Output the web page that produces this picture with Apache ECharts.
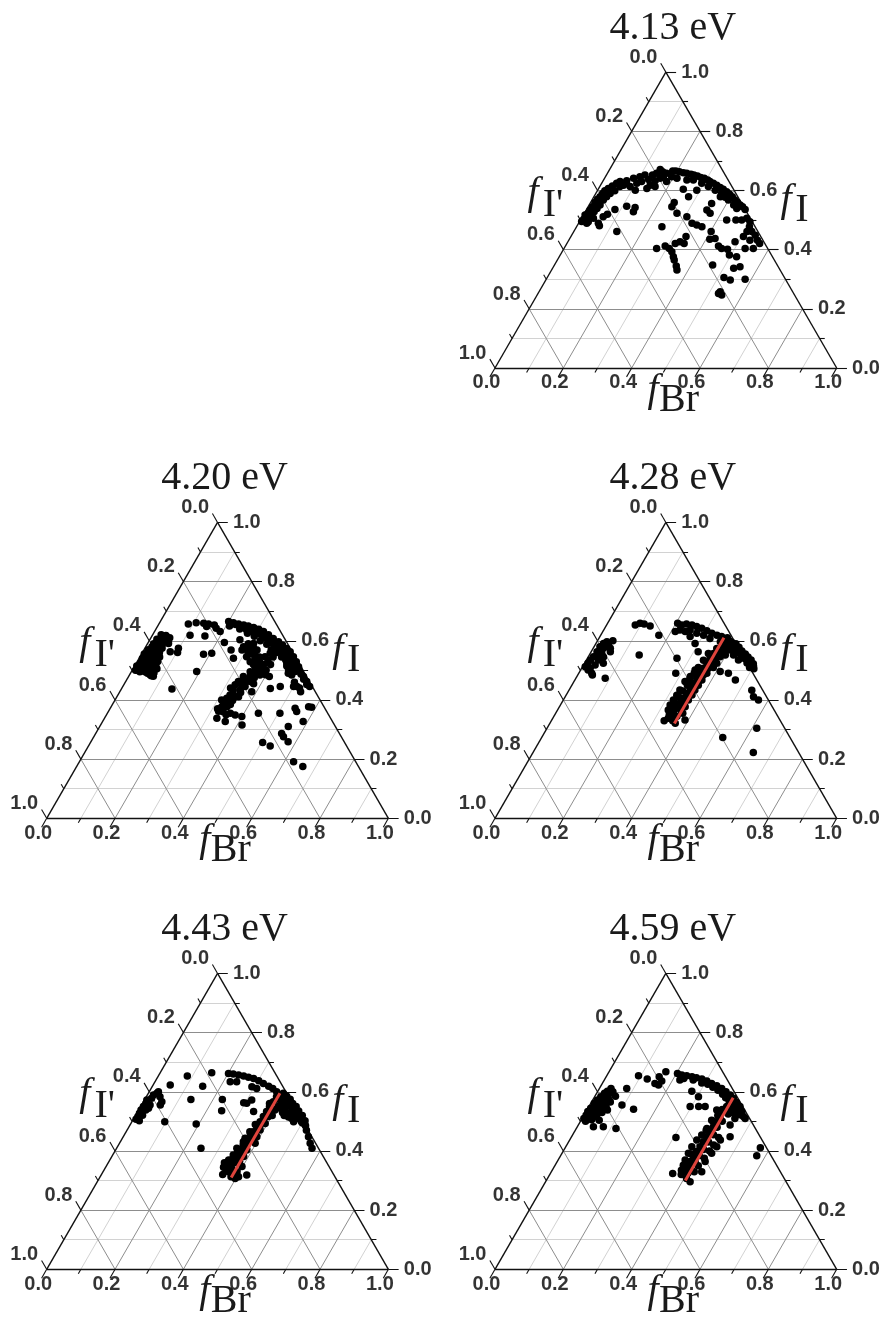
<!DOCTYPE html>
<html>
<head>
<meta charset="utf-8">
<title>Ternary scatter</title>
<script src="https://cdn.jsdelivr.net/npm/echarts@6/dist/echarts.min.js"></script>
<style>
html,body{margin:0;padding:0;background:#ffffff;}
#chart{width:884px;height:1330px;}
</style>
</head>
<body>
<div id="chart"></div>
<script>
// ---------------- data ----------------
const titles = ['4.13 eV', '4.20 eV', '4.28 eV', '4.43 eV', '4.59 eV'];
const majorTicks = [0, 0.2, 0.4, 0.6, 0.8, 1.0];
const minorTicks = [0.1, 0.3, 0.5, 0.7, 0.9];
const gridMajor = [0.2, 0.4, 0.6, 0.8];
const tickLabels = ['0.0', '0.2', '0.4', '0.6', '0.8', '1.0'];
const nameLeft = ['f', "I'"];
const nameRight = ['f', 'I'];
const nameBottom = ['f', 'Br'];

// points: [fBr, fI]  (fI' = 1 - fBr - fI)
const pts413 = [
[.006,.495],[.008,.502],[.005,.517],[.017,.502],[.011,.523],[.011,.534],[.023,.514],[.013,.545],[.026,.528],[.013,.559],[.029,.539],[.015,.570],[.018,.579],[.032,.551],[.020,.590],[.033,.568],[.022,.599],[.037,.579],[.028,.607],[.042,.590],[.036,.615],[.051,.599],[.044,.624],[.059,.613],[.051,.630],[.026,.494],[.035,.506],[.024,.489],[.058,.489],[.065,.481],[.061,.511],[.069,.520],[.083,.536],[.126,.461],[.112,.547],[.139,.542],[.141,.528],
[.067,.618],[.069,.633],[.089,.613],[.085,.641],[.103,.624],[.101,.646],[.114,.630],[.113,.652],[.131,.637],[.145,.618],[.135,.652],[.152,.633],[.144,.658],[.163,.641],[.159,.663],[.169,.649],[.173,.658],[.141,.607],[.110,.601],[.148,.671],
[.187,.666],[.196,.666],[.208,.663],[.221,.660],[.232,.658],[.246,.655],[.256,.652],[.268,.649],[.280,.644],[.292,.641],[.305,.635],[.314,.630],[.327,.624],[.340,.618],[.354,.610],[.366,.604],[.380,.596],[.392,.588],[.405,.579],[.418,.568],[.430,.559],[.442,.551],[.452,.545],[.464,.536],[.263,.635],[.293,.624],[.318,.613],[.344,.601],[.368,.590],[.385,.577],[.399,.568],[.423,.551],[.438,.539],[.370,.579],[.290,.601],[.244,.635],[.212,.641],[.194,.646],[.187,.630],[.162,.613],
[.484,.506],[.499,.494],[.506,.477],[.521,.461],[.537,.449],[.552,.432],[.564,.421],[.530,.432],[.507,.461],[.505,.444],[.530,.404],[.554,.404],[.472,.500],[.455,.500],[.428,.500],
[.249,.604],[.277,.579],[.245,.545],[.245,.559],[.271,.523],[.306,.511],[.332,.489],[.349,.483],[.367,.477],[.353,.534],[.356,.556],[.368,.523],[.250,.477],[.271,.404],[.292,.412],[.308,.404],[.321,.393],[.334,.376],[.342,.365],[.358,.345],[.367,.331],[.317,.421],[.328,.427],[.343,.421],[.337,.444],[.402,.461],[.411,.435],[.425,.438],[.448,.412],[.461,.404],[.480,.401],[.495,.382],[.489,.427],[.519,.376],[.530,.337],[.546,.342],[.540,.297],[.517,.306],[.582,.300],[.463,.348],[.528,.252],[.540,.247],[.530,.258]
];
const pts420 = [
[.010,.500],[.015,.510],[.012,.525],[.020,.520],[.030,.505],[.040,.495],[.050,.490],[.060,.485],[.065,.482],[.045,.505],[.035,.515],[.025,.535],[.015,.545],[.030,.545],[.020,.560],[.035,.555],[.045,.530],[.055,.510],[.012,.570],[.025,.575],[.040,.570],[.018,.590],[.030,.590],[.045,.585],[.020,.605],[.035,.605],[.050,.600],[.025,.620],[.040,.618],[.055,.610],[.050,.560],[.060,.530],[.070,.505],[.010,.540],[.008,.555],[.006,.515],[.072,.480],
[.015,.500],[.025,.495],[.035,.500],[.045,.495],[.055,.498],[.062,.495],[.068,.492],[.022,.512],[.032,.522],[.042,.518],[.052,.520],[.062,.515],[.018,.532],[.028,.528],[.038,.540],[.048,.545],[.058,.545],[.012,.548],[.022,.552],[.042,.560],[.015,.562],[.030,.565],[.018,.580],[.035,.580],[.050,.575],[.025,.598],[.040,.595],[.030,.610],[.045,.610],
[.061,.591],[.080,.563],[.098,.575],[.103,.560],[.057,.599],[.191,.496],[.148,.437],
[.086,.657],[.107,.661],[.130,.659],[.145,.657],[.164,.653],[.175,.642],[.192,.631],[.144,.648],[.110,.619],[.155,.616],[.182,.554],[.204,.558],[.223,.594],[.255,.569],
[.200,.665],[.216,.661],[.233,.657],[.250,.653],[.265,.650],[.283,.645],[.301,.639],[.319,.631],[.339,.620],[.359,.608],[.380,.597],[.397,.586],[.415,.574],[.431,.563],[.449,.546],[.466,.529],[.481,.512],[.493,.496],[.512,.479],[.530,.462],[.547,.445],[.267,.636],[.290,.631],[.312,.623],[.340,.608],[.362,.594],[.383,.580],[.406,.563],[.429,.546],[.448,.529],[.466,.512],[.479,.496],[.475,.484],
[.210,.650],[.245,.640],[.275,.625],[.300,.615],[.325,.600],[.350,.588],[.372,.570],[.392,.560],[.415,.545],[.440,.525],[.455,.505],[.462,.490],
[.225,.655],[.240,.650],[.258,.645],[.272,.642],[.290,.640],[.305,.628],[.320,.620],[.335,.612],[.352,.600],[.368,.590],[.385,.585],[.400,.575],[.420,.560],[.438,.548],[.455,.535],[.470,.520],[.485,.505],[.500,.488],[.517,.470],[.535,.452],[.432,.535],[.445,.515],[.460,.500],
[.264,.603],[.286,.580],[.308,.563],[.310,.591],[.331,.569],[.331,.529],[.354,.512],[.360,.490],[.356,.479],[.382,.484],[.384,.501],[.366,.546],[.375,.558],[.312,.546],[.287,.569],[.276,.541],
[.300,.575],[.320,.555],[.340,.540],[.345,.520],[.365,.505],[.372,.490],[.348,.495],[.340,.470],[.318,.440],[.335,.420],[.312,.400],[.332,.395],[.345,.385],[.315,.370],[.336,.360],[.350,.350],
[.295,.590],[.305,.575],[.318,.575],[.325,.560],[.335,.550],[.350,.545],[.358,.530],[.362,.515],[.375,.520],[.380,.535],[.390,.545],[.395,.520],[.392,.500],[.398,.485],[.370,.475],[.365,.462],[.378,.455],[.352,.462],[.342,.455],[.355,.425],[.340,.415],[.345,.398],[.330,.372],[.322,.362],
[.336,.479],[.330,.462],[.326,.451],[.329,.434],[.349,.434],[.328,.417],[.324,.406],[.320,.394],[.324,.377],[.339,.377],[.343,.406],[.356,.411],[.349,.445],[.358,.445],[.360,.355],[.377,.349],[.399,.344],[.329,.338],[.359,.327],[.414,.315],
[.386,.428],[.442,.355],[.412,.479],[.435,.439],[.505,.355],[.552,.310],[.544,.287],[.555,.276],[.577,.259],[.541,.372],[.551,.361],[.587,.327],[.578,.377],[.588,.375],[.504,.256],[.532,.244],[.627,.191],[.662,.175],[.529,.428],[.461,.445],[.500,.445],
[.495,.460],[.510,.445],[.520,.440]
];
const pts428 = [
[.008,.512],[.010,.524],[.012,.535],[.015,.546],[.017,.563],[.017,.580],[.022,.591],[.029,.597],[.039,.586],[.056,.563],[.034,.557],[.035,.535],[.034,.518],[.025,.507],[.038,.490],[.022,.501],[.055,.524],[.086,.473],[.043,.484],[.025,.546],[.045,.545],[.030,.575],[.045,.600],[.050,.575],
[.084,.653],[.095,.659],[.108,.657],[.129,.650],[.170,.619],[.146,.552],
[.205,.659],[.220,.653],[.232,.657],[.250,.653],[.266,.648],[.284,.642],[.303,.634],[.322,.625],[.340,.619],[.356,.614],[.223,.636],[.241,.631],[.253,.636],[.278,.625],[.301,.619],[.325,.608],[.377,.602],[.393,.591],[.408,.580],[.423,.569],[.439,.557],[.454,.546],[.470,.535],[.484,.524],[.499,.515],[.422,.552],[.445,.535],[.399,.569],[.370,.586],[.212,.631],[.264,.614],[.290,.591],[.313,.563],
[.385,.600],[.400,.585],[.415,.570],[.430,.560],[.445,.550],[.460,.540],[.475,.525],[.490,.510],
[.395,.595],[.410,.590],[.425,.578],[.440,.565],[.455,.555],[.468,.545],[.482,.535],[.495,.522],[.505,.505],[.375,.610],[.392,.575],[.378,.560],[.398,.552],
[.361,.597],[.362,.574],[.361,.557],[.359,.541],[.358,.524],[.356,.507],[.355,.490],[.354,.473],[.352,.456],[.352,.439],[.350,.422],[.349,.405],[.347,.389],[.346,.372],[.345,.355],[.348,.338],[.367,.321],
[.385,.586],[.387,.563],[.386,.546],[.387,.524],[.384,.510],[.375,.490],[.372,.467],[.370,.450],[.368,.434],[.368,.417],[.366,.400],[.368,.377],[.372,.355],[.390,.332],
[.346,.557],[.343,.534],[.335,.501],[.332,.479],[.325,.462],[.324,.434],[.324,.416],[.322,.400],[.321,.383],[.324,.366],[.338,.338],[.262,.541],[.284,.490],
[.340,.510],[.338,.490],[.335,.470],[.338,.450],[.335,.430],[.333,.410],[.331,.390],[.333,.370],[.335,.350],[.330,.330],[.355,.330],[.360,.345],[.362,.365],[.358,.385],[.360,.405],[.362,.425],[.363,.445],[.365,.465],[.368,.485],[.370,.505],[.372,.525],[.374,.545],[.373,.565],[.375,.585],
[.411,.496],[.438,.490],[.470,.467],
[.535,.433],[.551,.411],[.571,.400],[.614,.304],[.530,.273],[.645,.222]
];
const pts443 = [
[.008,.507],[.009,.516],[.008,.527],[.007,.538],[.008,.550],[.010,.561],[.007,.572],[.020,.521],[.021,.538],[.025,.555],[.018,.578],[.018,.589],[.025,.595],[.027,.600],[.040,.583],[.054,.566],[.026,.544],[.020,.502],[.055,.555],[.096,.499],[.050,.623],
[.085,.653],[.151,.664],[.147,.619],[.135,.574],[.192,.491],[.247,.409],[.227,.574],[.244,.536],
[.201,.662],[.216,.660],[.233,.657],[.250,.653],[.266,.649],[.283,.645],[.302,.637],[.320,.628],[.340,.619],[.356,.611],[.373,.600],[.220,.634],[.239,.634],[.292,.617],[.309,.611],[.295,.563],[.305,.561],[.314,.572],[.339,.533],[.384,.589],[.399,.578],[.415,.566],[.430,.555],[.445,.544],[.461,.533],[.477,.521],[.491,.510],[.505,.502],[.418,.550],[.440,.527],[.462,.510],[.473,.499],[.405,.566],[.403,.550],[.399,.538],[.386,.527],[.542,.448],[.558,.426],[.572,.409],
[.381,.583],[.380,.566],[.377,.550],[.377,.533],[.376,.516],[.375,.499],[.374,.482],[.372,.465],[.371,.448],[.370,.431],[.369,.414],[.367,.398],[.366,.381],[.364,.364],[.363,.347],[.367,.330],[.383,.313],[.398,.307],[.405,.313],
[.391,.516],[.393,.493],[.389,.471],[.391,.448],[.397,.426],[.384,.403],[.386,.381],[.398,.347],[.426,.319],
[.366,.489],[.362,.465],[.359,.443],[.360,.431],[.352,.409],[.353,.386],[.348,.369],[.351,.352],[.357,.336],
[.390,.575],[.410,.560],[.425,.548],[.450,.530],
[.372,.560],[.385,.545],[.385,.500],[.383,.480],[.380,.460],[.378,.440],[.376,.420],[.374,.400],[.372,.380],[.370,.360],[.372,.340],[.378,.325],[.390,.320],[.355,.320],[.345,.345],[.340,.360],[.358,.375],[.361,.395],[.365,.420],[.382,.365],[.392,.330],[.395,.540],[.400,.520],[.410,.545],[.425,.530],[.435,.520],[.450,.515],[.465,.525],[.480,.510],[.495,.500],[.510,.490],
[.500,.495],[.515,.485],[.525,.470],[.488,.520],[.470,.535],[.455,.550],[.440,.560],[.425,.575],[.410,.585],[.395,.595]
];
const pts459 = [
[.005,.510],[.006,.521],[.005,.533],[.008,.544],[.010,.561],[.014,.572],[.018,.583],[.023,.595],[.028,.602],[.034,.611],[.021,.510],[.025,.521],[.032,.527],[.033,.544],[.038,.555],[.041,.566],[.060,.538],[.047,.482],[.053,.504],[.076,.482],[.116,.476],[.094,.555],[.135,.541],[.080,.611],[.093,.654],[.124,.643],[.154,.628],[.167,.623],[.170,.636],[.166,.668],[.155,.651],
[.012,.515],[.015,.530],[.020,.545],[.025,.555],[.028,.570],[.032,.585],[.040,.595],[.045,.600],[.015,.500],[.030,.505],[.040,.515],[.048,.530],[.050,.550],[.055,.565],[.060,.585],[.045,.575],[.040,.540],
[.307,.445],[.358,.324],
[.203,.662],[.218,.657],[.234,.654],[.251,.651],[.266,.647],[.284,.643],[.302,.636],[.320,.628],[.339,.620],[.358,.611],[.376,.600],[.394,.589],[.409,.578],[.425,.564],[.456,.533],[.469,.516],[.221,.640],[.275,.602],[.304,.583],[.340,.550],[.321,.550],[.296,.550],
[.230,.645],[.260,.640],[.290,.630],[.310,.625],[.330,.615],[.350,.605],[.370,.592],[.385,.580],[.400,.570],[.415,.560],[.435,.545],[.445,.530],
[.405,.566],[.403,.550],[.402,.533],[.401,.516],[.400,.499],[.398,.482],[.397,.465],[.396,.448],[.394,.431],[.393,.414],[.391,.398],[.390,.381],[.389,.364],[.388,.347],[.391,.330],[.407,.307],[.423,.296],
[.442,.550],[.445,.533],[.447,.510],[.444,.488],[.464,.448],[.441,.437],[.442,.414],[.438,.392],[.433,.364],[.440,.330],
[.380,.538],[.382,.504],[.382,.476],[.378,.454],[.372,.437],[.369,.414],[.370,.392],[.372,.369],[.375,.352],
[.395,.540],[.415,.545],[.420,.525],[.415,.500],[.410,.480],[.412,.455],[.410,.430],[.408,.405],[.405,.385],[.403,.365],[.400,.345],[.402,.325],[.385,.320],[.378,.335],[.418,.330],[.420,.350],[.425,.375],[.428,.400],[.430,.420],[.432,.445],[.380,.390],[.383,.470],[.388,.500],[.392,.520],[.425,.545],[.420,.560],[.430,.530],
[.456,.522],[.477,.510],[.571,.411],[.574,.384]
];
// red guide lines: [fBr, fI start, fI end]
const red428 = [0.365, 0.32, 0.61];
const red443 = [0.385, 0.31, 0.595];
const red459 = [0.407, 0.30, 0.58];

// ---------------- layout ----------------
const W = 341.7, H = 295.9, PX = 0.12, PY = 0.12;
const panels = [
  {x0: 495,  y0: 368,    title: titles[0], pts: pts413, red: null},
  {x0: 46.7, y0: 818.3,  title: titles[1], pts: pts420, red: null},
  {x0: 495,  y0: 818.3,  title: titles[2], pts: pts428, red: red428},
  {x0: 46.7, y0: 1269.3, title: titles[3], pts: pts443, red: red443},
  {x0: 495,  y0: 1269.3, title: titles[4], pts: pts459, red: red459}
];
// ternary (fBr, fI) -> cartesian value coordinates
const T = (b, i) => [b + i / 2, i];
const seg = (a, b) => ({coords: [T(a[0], a[1]), T(b[0], b[1])]});

function linesSeries(idx, data, color, width, z) {
  return {
    type: 'lines', coordinateSystem: 'cartesian2d', xAxisIndex: idx, yAxisIndex: idx,
    polyline: false, silent: true, z: z, animation: false,
    lineStyle: {color: color, width: width, opacity: 1, curveness: 0},
    data: data
  };
}

const option = {animation: false, backgroundColor: '#ffffff', grid: [], xAxis: [], yAxis: [], series: [], graphic: []};
const tickFont = '"Liberation Sans", Arial, sans-serif';
const serif = '"Liberation Serif", "Times New Roman", serif';

panels.forEach((p, i) => {
  option.grid.push({left: p.x0 - PX * W, top: p.y0 - H - PY * H, width: W * (1 + 2 * PX), height: H * (1 + 2 * PY)});
  option.xAxis.push({type: 'value', gridIndex: i, min: -PX, max: 1 + PX, show: false});
  option.yAxis.push({type: 'value', gridIndex: i, min: -PY, max: 1 + PY, show: false});

  // minor grid (constant fBr and constant fI)
  const minor = [];
  minorTicks.forEach(m => {
    minor.push(seg([m, 0], [m, 1 - m]));
    minor.push(seg([0, m], [1 - m, m]));
  });
  option.series.push(linesSeries(i, minor, '#d2d2d2', 1, 1));

  // major grid (three directions)
  const major = [];
  gridMajor.forEach(v => {
    major.push(seg([v, 0], [v, 1 - v]));
    major.push(seg([0, v], [1 - v, v]));
    major.push(seg([1 - v, 0], [0, 1 - v]));
  });
  option.series.push(linesSeries(i, major, '#8d8d8d', 1, 2));

  // border + ticks
  const frame = [seg([0, 0], [1, 0]), seg([1, 0], [0, 1]), seg([0, 1], [0, 0])];
  const ticks = [];
  const addTicks = (v, len) => {
    ticks.push(seg([v, 0], [v, -len]));                 // bottom (fBr)
    ticks.push(seg([1 - v, v], [1 - v + len, v]));      // right (fI)
    ticks.push(seg([0, 1 - v], [-len, 1 - v + len]));   // left (fI')
  };
  majorTicks.forEach(v => addTicks(v, 0.03));
  minorTicks.forEach(v => addTicks(v, 0.015));
  option.series.push(linesSeries(i, frame, '#111111', 1.4, 3));
  option.series.push(linesSeries(i, ticks, '#111111', 1.1, 3));

  // scatter points
  option.series.push({
    type: 'scatter', xAxisIndex: i, yAxisIndex: i, symbol: 'circle', symbolSize: 7.5,
    silent: true, z: 5, itemStyle: {color: '#000000', opacity: 1},
    data: p.pts.map(d => T(d[0], d[1]))
  });

  // red guide line
  if (p.red) {
    option.series.push(linesSeries(i, [seg([p.red[0], p.red[1]], [p.red[0], p.red[2]])], '#e0443c', 3, 6));
  }

  // tick labels
  const lab = [];
  majorTicks.forEach((v, k) => {
    lab.push({value: T(v, -0.05), name: tickLabels[k], label: {align: 'center'}});
    lab.push({value: T(1 - v + 0.045, v), name: tickLabels[k], label: {align: 'left'}});
    lab.push({value: T(-0.05, 1 - v + 0.05), name: tickLabels[k], label: {align: 'right'}});
  });
  option.series.push({
    type: 'scatter', xAxisIndex: i, yAxisIndex: i, symbol: 'circle', symbolSize: 1,
    silent: true, z: 7, itemStyle: {color: 'rgba(0,0,0,0)'},
    label: {show: true, position: 'inside', formatter: q => q.name, color: '#000',
      fontSize: 20, fontWeight: 'bold', fontFamily: tickFont, verticalAlign: 'middle'},
    data: lab
  });

  // titles and axis names
  const ax = p.x0 + W / 2;
  option.graphic.push({type: 'text', x: ax + 7, y: p.y0 - 340, silent: true,
    style: {text: p.title, font: '40px ' + serif, fill: '#1a1a1a', align: 'center', verticalAlign: 'middle'}});
  const addName = (pair, fx, fy, sx, sy) => {
    option.graphic.push({type: 'text', x: p.x0 + fx, y: p.y0 + fy, silent: true,
      style: {text: pair[0], font: 'italic 40px ' + serif, fill: '#1a1a1a', align: 'center', verticalAlign: 'middle'}});
    option.graphic.push({type: 'text', x: p.x0 + sx, y: p.y0 + sy, silent: true,
      style: {text: pair[1], font: '40px ' + serif, fill: '#1a1a1a', align: 'center', verticalAlign: 'middle'}});
  };
  addName(nameLeft, 38, -175, 58, -163);
  addName(nameRight, 291, -168, 307, -158);
  addName(nameBottom, 158, 22, 184, 32);
});

const chart = echarts.init(document.getElementById('chart'), null, {renderer: 'canvas'});
chart.setOption(option);
</script>
</body>
</html>
